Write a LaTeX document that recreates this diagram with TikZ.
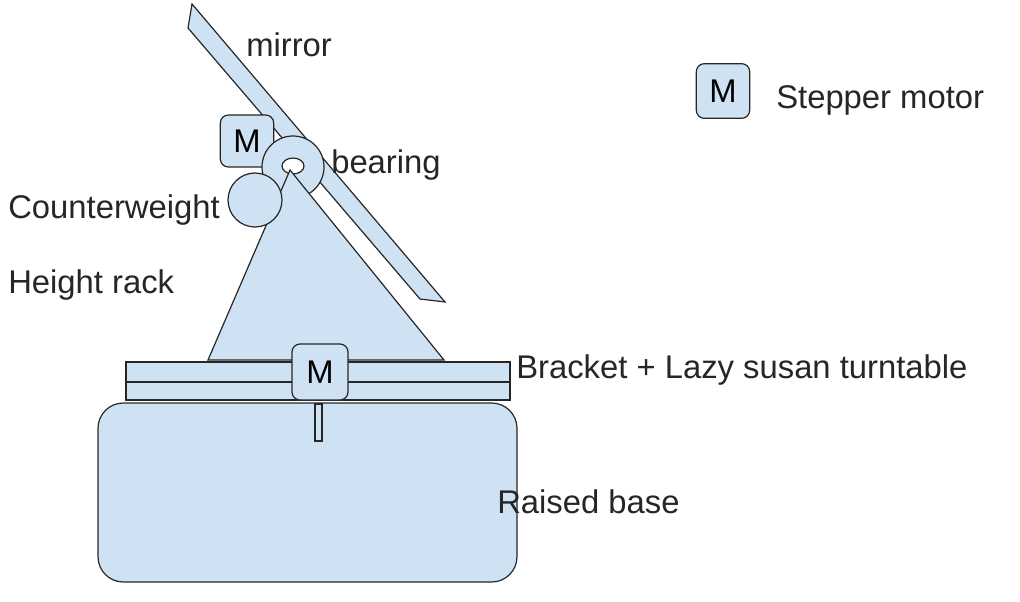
\documentclass[tikz,border=0pt]{standalone}
\usepackage{fontspec}
\setmainfont{Liberation Sans}
\begin{document}
\begin{tikzpicture}[x=0.75pt,y=-0.75pt,
  part/.style={draw=black!85,fill=blue1,line width=0.9pt},
  lbl/.style={font=\fontsize{24.6}{28}\selectfont,text=black!85,inner sep=0pt},
  motor/.style={part,rounded corners=6pt,font=\fontsize{24.6}{28}\selectfont,inner sep=0pt}]
\definecolor{blue1}{HTML}{CFE2F3}
\useasboundingbox (0,0) rectangle (1020,602);
% base
\draw[part,rounded corners=19pt] (98,403) rectangle (517,582);
\draw[part] (315,404) rectangle (322,441);
% bracket
\draw[part] (126,362) rectangle (510,400);
\draw[black!85,line width=0.9pt] (126,382) -- (510,382);
% mirror
\draw[part] (192,4) -- (445,302) -- (420,299) -- (188,28) -- cycle;
% top motor
\node[motor,minimum width=40pt,minimum height=39pt] (m1) at (247,141) {M};
% bearing
\draw[part,even odd rule] (293,167) circle (31) (293,166) ellipse (11 and 8);
% triangle
\draw[part] (290,170) -- (444,360) -- (208,360) -- cycle;
% counterweight
\draw[part] (255,200) circle (27);
% bracket motor
\node[motor,minimum width=42pt,minimum height=42pt] (m2) at (320,372) {M};
% legend motor
\node[motor,minimum width=40pt,minimum height=41pt] (m3) at (723,91) {M};
% labels
\node[lbl,anchor=west] at (246,45) {mirror};
\node[lbl,anchor=west] at (331,165) {bearing};
\node[lbl,anchor=west] at (8,210) {Counterweight};
\node[lbl,anchor=west] at (8,285) {Height rack};
\node[lbl,anchor=west] at (516,370) {Bracket + Lazy susan turntable};
\node[lbl,anchor=west] at (497,502) {Raised base};
\node[lbl,anchor=west] at (776,100) {Stepper motor};
\end{tikzpicture}
\end{document}
